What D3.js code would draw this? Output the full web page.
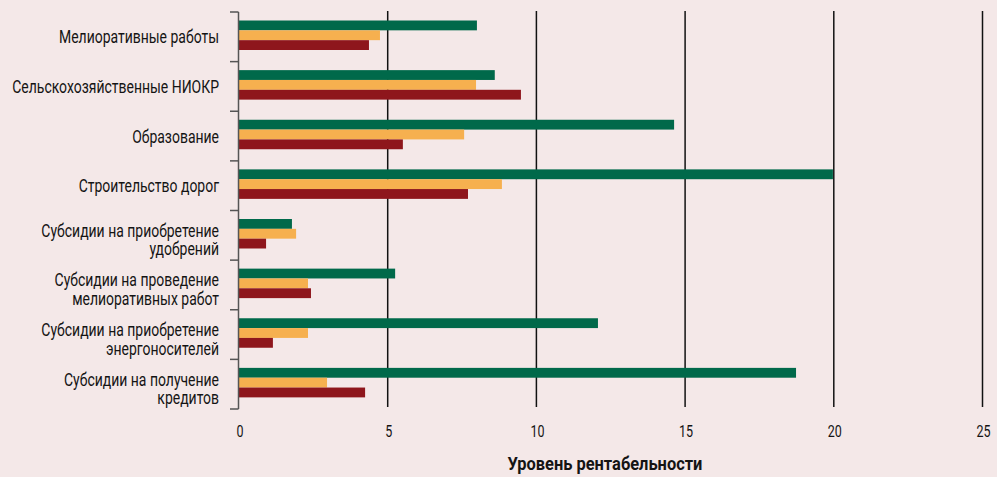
<!DOCTYPE html>
<html>
<head>
<meta charset="utf-8">
<script src="https://cdn.jsdelivr.net/npm/d3@7"></script>
<style>
  body { margin: 0; background: #f4e8e8; }
  svg { display: block; }
  text { font-family: Roboto, "Noto Sans", sans-serif; fill: #141414; }
</style>
</head>
<body>
<svg id="chart" width="997" height="477"></svg>
<script>
const categories = [
  ["Мелиоративные работы"],
  ["Сельскохозяйственные НИОКР"],
  ["Образование"],
  ["Строительство дорог"],
  ["Субсидии на приобретение", "удобрений"],
  ["Субсидии на проведение", "мелиоративных работ"],
  ["Субсидии на приобретение", "энергоносителей"],
  ["Субсидии на получение", "кредитов"]
];
const seriesGreen = [8.0, 8.6, 14.63, 19.97, 1.78, 5.25, 12.07, 18.73];
const seriesOrange = [4.74, 7.97, 7.57, 8.84, 1.92, 2.32, 2.32, 2.96];
const seriesRed = [4.37, 9.48, 5.51, 7.7, 0.91, 2.42, 1.14, 4.24];
const xTicks = [0, 5, 10, 15, 20, 25];
const xTitle = "Уровень рентабельности";

const colors = { green: "#00694a", orange: "#f6b04f", red: "#8e161c" };

const svg = d3.select("#chart");
const mLeft = 239, mRight = 982.5, mTop = 12, mBottom = 409;

const x = d3.scaleLinear().domain([0, 25]).range([mLeft, mRight]);
const y = d3.scaleBand().domain(d3.range(categories.length)).range([mTop, mBottom]);
const inner = d3.scaleBand().domain(["green", "orange", "red"]).range([8.5, 38]);

// condensed look: squeeze text horizontally so the longest label fits like the original
const measure = (str, size, weight) => {
  const t = svg.append("text").attr("font-size", size).attr("font-weight", weight).text(str);
  const w = t.node().getComputedTextLength();
  t.remove();
  return w;
};
const labelSize = 19;
const sx = 207 / measure("Сельскохозяйственные НИОКР", labelSize, "normal");
const titleSx = 195 / measure(xTitle, 18, "bold");

const rows = categories.map((c, i) => ({
  i: i, label: c,
  values: [
    { key: "green", v: seriesGreen[i] },
    { key: "orange", v: seriesOrange[i] },
    { key: "red", v: seriesRed[i] }
  ]
}));

// vertical grid lines
svg.append("g").selectAll("line")
  .data(xTicks.filter(t => t > 0))
  .join("line")
    .attr("x1", d => x(d)).attr("x2", d => x(d))
    .attr("y1", mTop - 1).attr("y2", mBottom - 2)
    .attr("stroke", "#111").attr("stroke-width", 1.5);

// bars
const groups = svg.append("g").selectAll("g")
  .data(rows)
  .join("g")
    .attr("transform", d => `translate(0,${y(d.i)})`);

groups.selectAll("rect")
  .data(d => d.values)
  .join("rect")
    .attr("x", x(0))
    .attr("y", d => inner(d.key))
    .attr("width", d => x(d.v) - x(0))
    .attr("height", inner.bandwidth())
    .attr("fill", d => colors[d.key]);

// y axis line with ticks at band boundaries
const yAxis = svg.append("g");
yAxis.append("line")
  .attr("x1", mLeft - 0.5).attr("x2", mLeft - 0.5)
  .attr("y1", mTop).attr("y2", mBottom)
  .attr("stroke", "#555").attr("stroke-width", 1.5);
yAxis.selectAll(".ytick")
  .data(d3.range(categories.length + 1))
  .join("line")
    .attr("class", "ytick")
    .attr("x1", mLeft - 9).attr("x2", mLeft - 0.5)
    .attr("y1", d => mTop + d * y.step()).attr("y2", d => mTop + d * y.step())
    .attr("stroke", "#555").attr("stroke-width", 1.5);

// category labels
const lineH = 18.5;
groups.each(function(d) {
  const n = d.label.length;
  const base = n === 1 ? y.bandwidth() / 2 + 6.5 : y.bandwidth() / 2 + 1.5;
  d3.select(this).selectAll(".lbl")
    .data(d.label)
    .join("g")
      .attr("class", "lbl")
      .attr("transform", (t, k) => `translate(${mLeft - 20},${base + k * lineH}) scale(${sx},1)`)
    .append("text")
      .attr("text-anchor", "end")
      .attr("font-size", labelSize)
      .text(t => t);
});

// x tick labels
svg.append("g").selectAll("g")
  .data(xTicks)
  .join("g")
    .attr("transform", d => `translate(${x(d) + 1},437) scale(${sx},1)`)
  .append("text")
    .attr("text-anchor", "middle")
    .attr("font-size", 17)
    .text(d => d);

svg.append("g")
  .attr("transform", `translate(605,470) scale(${titleSx},1)`)
  .append("text")
    .attr("text-anchor", "middle")
    .attr("font-size", 18)
    .attr("font-weight", "bold")
    .text(xTitle);
</script>
</body>
</html>
